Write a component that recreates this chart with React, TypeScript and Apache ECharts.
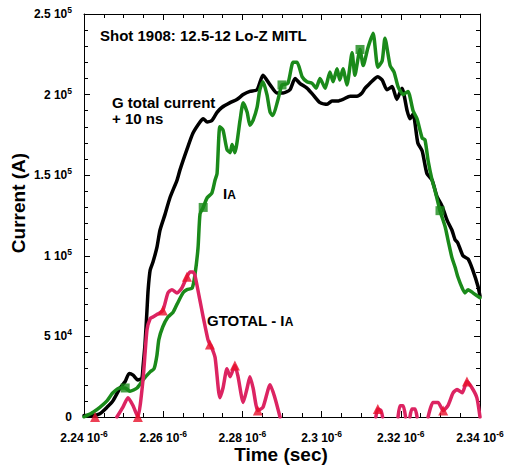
import React, { useEffect, useRef } from "react";
import * as echarts from "echarts";

// time in ns (axis labels shown as µs x 10^-6 s), current in A
const xTickTimes = [2240, 2260, 2280, 2300, 2320, 2340];

const gTotal: [number, number][] = [
  [2240.0, 1000], [2242.3, 1000], [2244.0, 2000], [2245.8, 6000], [2247.3, 10000], [2249.1, 18000],
  [2250.4, 22000], [2251.4, 27000], [2252.4, 26000], [2253.6, 23000], [2254.6, 24000], [2254.9, 31000],
  [2255.4, 45000], [2255.9, 66000], [2256.2, 79000], [2256.7, 91000], [2257.4, 96000], [2258.4, 105000],
  [2259.2, 116000], [2260.5, 126000], [2261.7, 136000], [2263.5, 147000], [2264.2, 153000], [2266.0, 166000],
  [2267.5, 176000], [2269.3, 183000], [2270.1, 185000], [2271.1, 183000], [2272.3, 184000], [2273.6, 189000],
  [2274.8, 192000], [2276.9, 195000], [2278.6, 197000], [2280.2, 200000], [2281.9, 202000], [2283.7, 203000],
  [2285.2, 212000], [2287.0, 206000], [2288.7, 201000], [2290.3, 201000], [2292.0, 203000], [2293.3, 210000],
  [2294.5, 207000], [2296.3, 204000], [2297.8, 200000], [2299.6, 195000], [2301.4, 194000], [2302.6, 196000],
  [2304.1, 196000], [2305.4, 197000], [2307.2, 199000], [2308.9, 199000], [2310.2, 201000], [2311.0, 204000],
  [2312.2, 207000], [2313.5, 210000], [2314.2, 211000], [2315.3, 209000], [2316.5, 203000], [2317.8, 205000],
  [2319.0, 197000], [2320.3, 204000], [2321.6, 190000], [2322.3, 185000], [2323.1, 188000], [2324.3, 170000],
  [2325.4, 165000], [2326.6, 151000], [2327.9, 147000], [2329.1, 137000], [2330.4, 131000], [2331.7, 122000],
  [2332.9, 116000], [2333.7, 110000], [2334.4, 108000], [2335.7, 100000], [2337.0, 98000], [2338.2, 91000],
  [2339.5, 81000], [2340.0, 75000],
];

const iA: [number, number][] = [
  [2240.0, 0], [2240.8, 1000], [2242.3, 3000], [2244.0, 6000], [2245.8, 10000], [2247.3, 15000],
  [2249.1, 18000], [2250.4, 18000], [2251.6, 16000], [2253.4, 18000], [2254.9, 23000], [2256.7, 28000],
  [2257.7, 30000], [2258.4, 38000], [2258.9, 48000], [2259.9, 56000], [2261.2, 62000], [2262.5, 65000],
  [2263.5, 70000], [2265.0, 77000], [2266.0, 79000], [2267.3, 80000], [2268.0, 88000], [2268.8, 105000],
  [2269.3, 126000], [2270.1, 130000], [2271.1, 136000], [2272.3, 139000], [2273.1, 147000], [2273.6, 151000],
  [2274.3, 180000], [2275.1, 178000], [2276.1, 166000], [2276.9, 164000], [2277.4, 169000], [2278.1, 164000],
  [2279.4, 184000], [2280.2, 195000], [2281.2, 189000], [2281.9, 181000], [2282.7, 184000], [2283.7, 192000],
  [2284.4, 203000], [2285.2, 208000], [2286.2, 200000], [2287.0, 189000], [2287.7, 187000], [2289.0, 197000],
  [2290.0, 206000], [2291.5, 207000], [2292.8, 220000], [2293.8, 220000], [2295.1, 211000], [2296.3, 208000],
  [2297.6, 207000], [2298.6, 204000], [2299.6, 210000], [2300.9, 204000], [2302.1, 214000], [2302.9, 208000],
  [2303.9, 216000], [2304.6, 209000], [2305.4, 216000], [2306.4, 206000], [2307.7, 226000], [2308.4, 212000],
  [2309.7, 228000], [2310.5, 218000], [2311.7, 229000], [2313.0, 238000], [2314.2, 217000], [2315.3, 221000],
  [2316.0, 235000], [2317.3, 218000], [2318.3, 214000], [2319.3, 205000], [2320.6, 200000], [2321.8, 202000],
  [2323.1, 190000], [2324.1, 185000], [2325.4, 173000], [2326.1, 172000], [2326.9, 159000], [2327.9, 147000],
  [2328.6, 141000], [2329.9, 128000], [2331.2, 118000], [2331.9, 110000], [2332.9, 99000], [2333.7, 93000],
  [2334.4, 87000], [2335.5, 80000], [2336.2, 77000], [2337.0, 79000], [2338.2, 77000], [2340.0, 74000],
];

// null = below the plotted range (negative difference), not drawn
const gMinusIA: [number, number | null][] = [
  [2242.8, 0], [2245.0, null], [2248.3, 0], [2249.8, 6000], [2251.1, 12000], [2252.4, 7000], [2253.6, 0],
  [2254.9, 23000], [2255.9, 54000], [2256.7, 61000], [2257.4, 62000], [2258.7, 64000], [2259.9, 66000],
  [2261.2, 77000], [2262.2, 79000], [2263.5, 77000], [2264.7, 80000], [2266.0, 87000], [2266.8, 90000],
  [2267.5, 90000], [2268.0, 88000], [2269.3, 72000], [2270.1, 62000], [2271.3, 48000], [2271.8, 45000],
  [2272.1, 44000], [2273.1, 37000], [2274.3, 12000], [2275.1, 18000], [2276.1, 30000], [2276.9, 25000],
  [2278.1, 32000], [2278.9, 25000], [2280.2, 9000], [2281.2, 18000], [2281.9, 25000], [2282.7, 18000],
  [2283.9, 4000], [2285.2, 6000], [2287.0, 20000], [2288.2, 12000], [2289.5, 0], [2300.0, null],
  [2313.7, 0], [2314.2, 5000], [2315.0, 4000], [2315.4, 0], [2317.0, null], [2319.3, 0], [2319.8, 7000],
  [2320.6, 7000], [2321.2, 0], [2321.8, null], [2322.3, 0], [2322.8, 5000], [2323.6, 5000], [2324.1, 0],
  [2325.0, null], [2326.9, 0], [2328.1, 9000], [2329.4, 9000], [2330.7, 4000], [2331.9, 7000],
  [2333.2, 15000], [2334.2, 17000], [2335.5, 15000], [2336.7, 22000], [2338.0, 18000], [2339.2, 12000],
  [2340.0, 0],
];

const iAMarkerTimes = [2250, 2270, 2290, 2310, 2330];
const diffMarkerTimes = [2242.8, 2253.6, 2259.9, 2266.0, 2271.8, 2278.1, 2283.9, 2314.2, 2330.7, 2336.7];

const FONT = "'Liberation Sans', Arial, Helvetica, sans-serif";

function pickMarkers(series: [number, number | null][], times: number[]) {
  return times.map((t) => {
    let best: [number, number | null] | null = null;
    let bd = Infinity;
    for (const p of series) {
      if (p[1] == null) continue;
      const d = Math.abs(p[0] - t);
      if (d < bd) {
        bd = d;
        best = p;
      }
    }
    return best;
  });
}

function sciY(v: number) {
  if (v === 0) return "{m|0}";
  const e = Math.floor(Math.log10(v) + 1e-9);
  const m = +(v / Math.pow(10, e)).toFixed(2);
  return `{m|${m} 10}{s|${e}}`;
}

function sciX(v: number) {
  return `{m|${+(v / 1000).toFixed(3)} 10}{s|-6}`;
}

const rich = {
  m: { fontSize: 12, fontWeight: "bold", fontFamily: FONT, color: "#000" },
  s: { fontSize: 8.5, fontWeight: "bold", fontFamily: FONT, color: "#000", padding: [0, 0, 8, 0] },
};

export default function App() {
  const ref = useRef<HTMLDivElement>(null);
  useEffect(() => {
    if (!ref.current) return;
    const chart = echarts.init(ref.current, undefined, { renderer: "svg" });
    const axisLine = { show: true, onZero: false, lineStyle: { color: "#000", width: 1 } };
    const tick = { show: true, inside: true, length: 6, lineStyle: { color: "#000", width: 1 } };
    const xMinor = { show: true, splitNumber: 4, length: 4, lineStyle: { color: "#000", width: 1 } };
    const yMinor = { show: true, splitNumber: 5, length: 4, lineStyle: { color: "#000", width: 1 } };
    const xBase = { type: "value", min: 2240, max: 2340, interval: 20, splitLine: { show: false } };
    const yBase = { type: "value", min: 0, max: 250000, interval: 50000, splitLine: { show: false } };
    const textBase = { fontFamily: FONT, fontWeight: "bold", fill: "#000" };
    const option = {
      animation: false,
      backgroundColor: "#fff",
      grid: { left: 84, right: 33, top: 14, bottom: 59 },
      xAxis: [
        {
          ...xBase,
          position: "bottom",
          axisLine,
          axisTick: tick,
          minorTick: xMinor,
          axisLabel: { margin: 12, formatter: sciX, rich, showMinLabel: true, showMaxLabel: true },
        },
        {
          ...xBase,
          position: "top",
          axisLine,
          axisTick: tick,
          minorTick: xMinor,
          axisLabel: { show: false },
        },
      ],
      yAxis: [
        {
          ...yBase,
          position: "left",
          axisLine,
          axisTick: tick,
          minorTick: yMinor,
          axisLabel: { margin: 12, formatter: sciY, rich, showMinLabel: true, showMaxLabel: true },
        },
        {
          ...yBase,
          position: "right",
          axisLine,
          axisTick: tick,
          minorTick: yMinor,
          axisLabel: { show: false },
        },
      ],
      series: [
        {
          name: "G total current + 10 ns",
          type: "line",
          data: gTotal,
          showSymbol: false,
          smooth: 0.2,
          lineStyle: { color: "#000", width: 3.5, join: "round", cap: "round" },
          z: 2,
        },
        {
          name: "IA",
          type: "line",
          data: iA,
          showSymbol: false,
          smooth: 0.2,
          lineStyle: { color: "#1a8a1a", width: 3.5, join: "round", cap: "round" },
          z: 3,
        },
        {
          name: "IA markers",
          type: "scatter",
          data: pickMarkers(iA, iAMarkerTimes),
          symbol: "rect",
          symbolSize: 9,
          itemStyle: { color: "#1a8a1a" },
          z: 4,
        },
        {
          name: "GTOTAL - IA",
          type: "line",
          data: gMinusIA,
          showSymbol: false,
          connectNulls: false,
          smooth: 0.2,
          lineStyle: { color: "#dc2462", width: 3.5, join: "round", cap: "round" },
          z: 5,
        },
        {
          name: "GTOTAL - IA markers",
          type: "scatter",
          data: pickMarkers(gMinusIA, diffMarkerTimes),
          symbol: "triangle",
          symbolSize: 10,
          itemStyle: { color: "#e8102a" },
          z: 6,
        },
      ],
      graphic: [
        {
          type: "text",
          x: 100,
          y: 35,
          style: { ...textBase, text: "Shot 1908: 12.5-12 Lo-Z MITL", fontSize: 15, align: "left", verticalAlign: "middle" },
        },
        {
          type: "text",
          x: 112,
          y: 94,
          style: { ...textBase, text: "G total current\n+ 10 ns", fontSize: 15, lineHeight: 16, align: "left", verticalAlign: "top" },
        },
        {
          type: "text",
          x: 223,
          y: 193,
          style: {
            ...textBase,
            text: "{a|I}{b|A}",
            align: "left",
            verticalAlign: "middle",
            rich: {
              a: { fontSize: 15, fontWeight: "bold", fontFamily: FONT, fill: "#000" },
              b: { fontSize: 12, fontWeight: "bold", fontFamily: FONT, fill: "#000", padding: [3, 0, 0, 0] },
            },
          },
        },
        {
          type: "text",
          x: 207,
          y: 320,
          style: {
            ...textBase,
            text: "{a|GTOTAL - I}{b|A}",
            align: "left",
            verticalAlign: "middle",
            rich: {
              a: { fontSize: 15, fontWeight: "bold", fontFamily: FONT, fill: "#000" },
              b: { fontSize: 12, fontWeight: "bold", fontFamily: FONT, fill: "#000", padding: [3, 0, 0, 0] },
            },
          },
        },
        {
          type: "text",
          x: 281,
          y: 454,
          style: { ...textBase, text: "Time (sec)", fontSize: 19, align: "center", verticalAlign: "middle" },
        },
        {
          type: "text",
          x: 18,
          y: 203,
          rotation: Math.PI / 2,
          style: { ...textBase, text: "Current (A)", fontSize: 19, align: "center", verticalAlign: "middle" },
        },
      ],
    };
    chart.setOption(option as any);
    return () => chart.dispose();
  }, []);
  return (
    <div
      ref={ref}
      style={{ position: "fixed", left: 0, top: 0, width: 513, height: 476, background: "#fff" }}
    />
  );
}
